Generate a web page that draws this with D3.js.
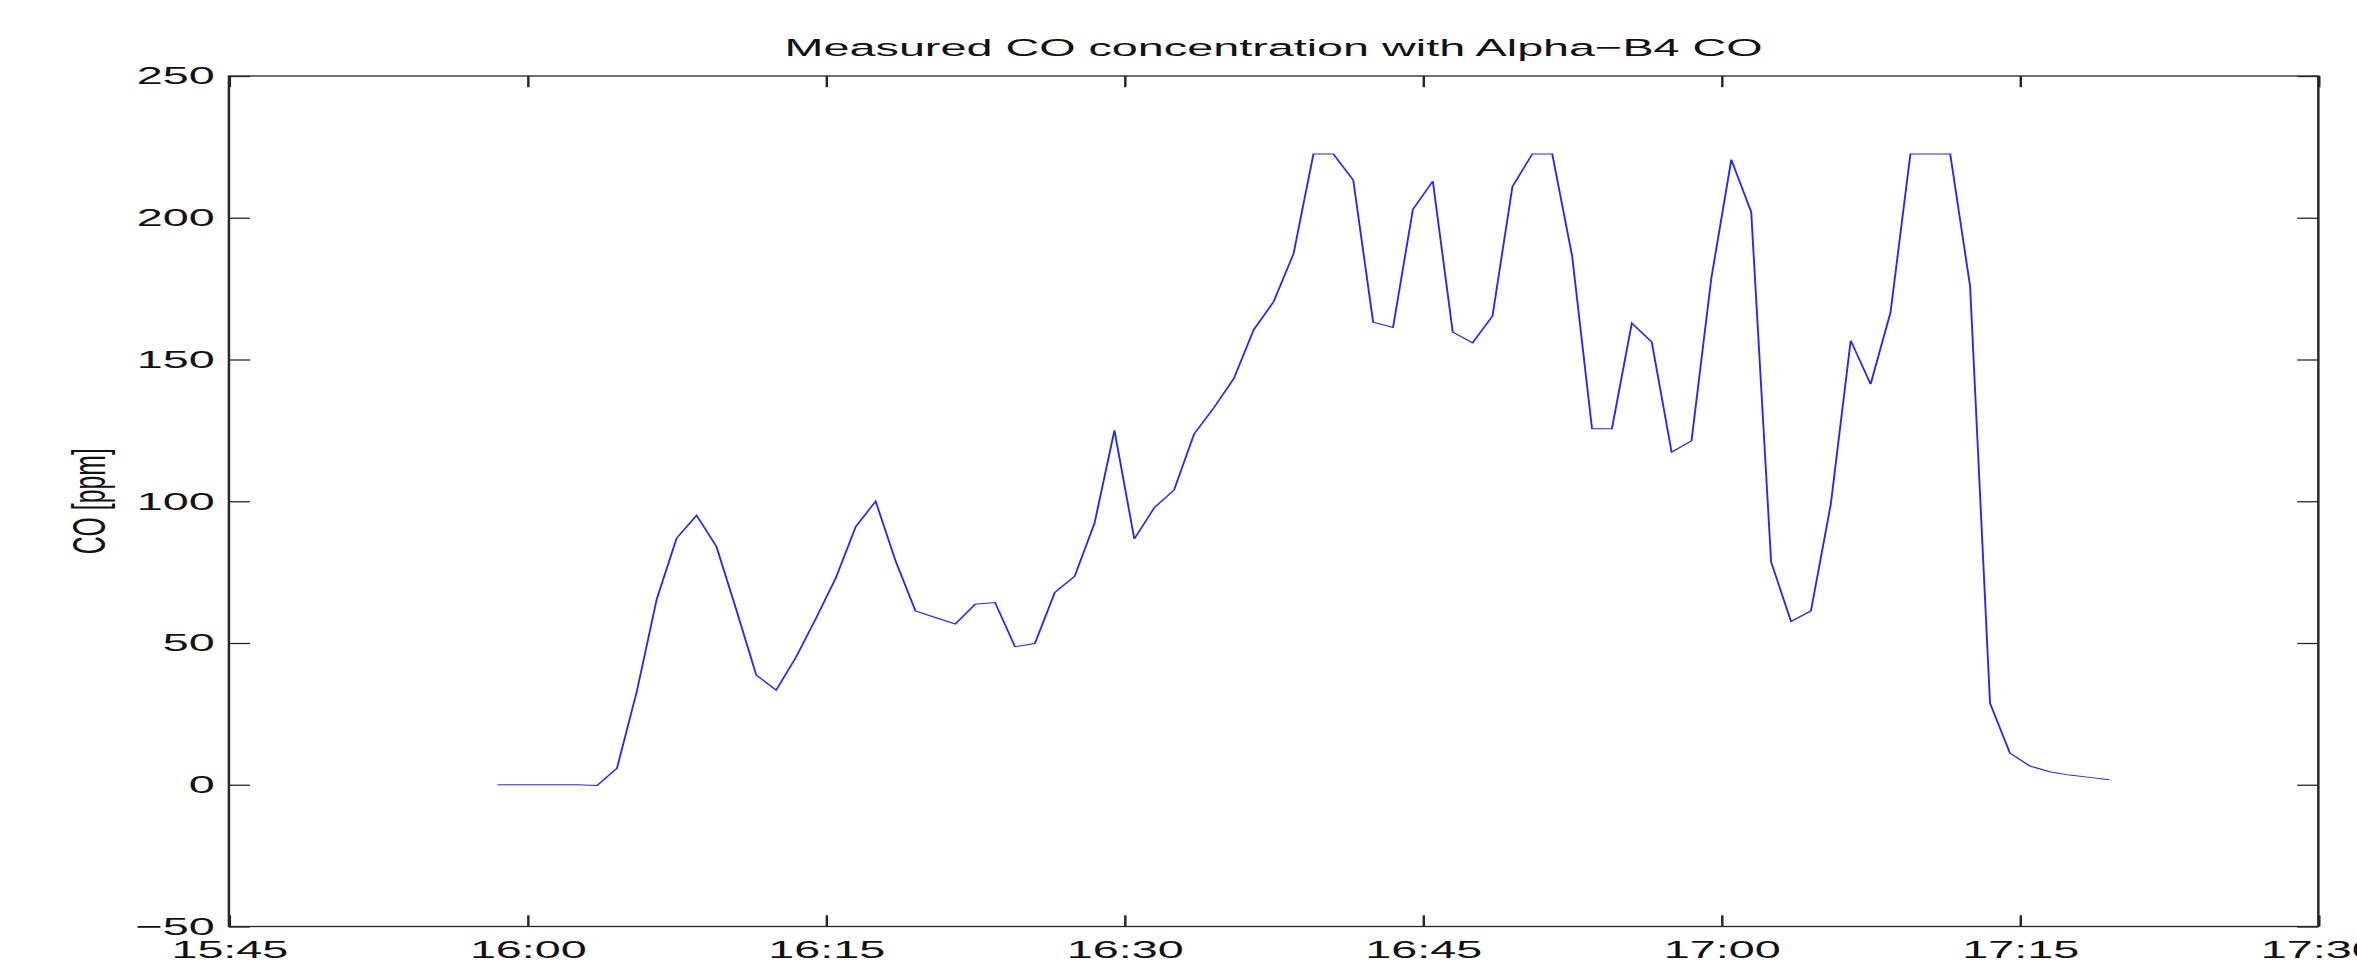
<!DOCTYPE html>
<html>
<head>
<meta charset="utf-8">
<script src="https://cdn.jsdelivr.net/npm/d3@7"></script>
<style>
  html, body { margin: 0; padding: 0; background: #fff; }
  svg { display: block; }
  text { font-family: "Liberation Sans", Arial, Helvetica, sans-serif; fill: #111; }
</style>
</head>
<body>
<svg id="chart"></svg>
<script>
// Sample times (one reading per minute) and CO readings in ppm
const sampleTimes = [
  "15:58:30","15:59:30","16:00:30","16:01:30","16:02:30","16:03:30","16:04:30","16:05:30","16:06:30","16:07:30",
  "16:08:30","16:09:30","16:10:30","16:11:30","16:12:30","16:13:30","16:14:30","16:15:30","16:16:30","16:17:30",
  "16:18:30","16:19:30","16:20:30","16:21:30","16:22:30","16:23:30","16:24:30","16:25:30","16:26:30","16:27:30",
  "16:28:30","16:29:30","16:30:30","16:31:30","16:32:30","16:33:30","16:34:30","16:35:30","16:36:30","16:37:30",
  "16:38:30","16:39:30","16:40:30","16:41:30","16:42:30","16:43:30","16:44:30","16:45:30","16:46:30","16:47:30",
  "16:48:30","16:49:30","16:50:30","16:51:30","16:52:30","16:53:30","16:54:30","16:55:30","16:56:30","16:57:30",
  "16:58:30","16:59:30","17:00:30","17:01:30","17:02:30","17:03:30","17:04:30","17:05:30","17:06:30","17:07:30",
  "17:08:30","17:09:30","17:10:30","17:11:30","17:12:30","17:13:30","17:14:30","17:15:30","17:16:30","17:17:30",
  "17:18:30","17:19:30"
];
const coPpm = [
  0, 0, 0, 0, 0, -0.3, 5.8, 33, 65.5, 87,
  95, 84, 61.7, 38.7, 33.4, 45, 58.7, 73, 91, 100,
  79, 61.3, 59, 56.7, 63.7, 64.3, 48.7, 49.8, 67.8, 73.5,
  92.3, 125, 86.7, 97.7, 104, 123.7, 133, 143.3, 160.5, 170.4,
  187.3, 222.5, 222.5, 213.3, 163.2, 161.3, 203, 212.9, 159.7, 155.9,
  165.4, 211, 222.5, 222.5, 186.5, 125.6, 125.6, 162.8, 156.2, 117.3,
  121.3, 178.9, 220.5, 202, 78.6, 57.6, 61.3, 99, 156.7, 141.3,
  166.6, 222.5, 222.5, 222.5, 175.8, 28.8, 11.2, 6.6, 4.6, 3.4,
  2.6, 1.8
];
const xDomain = ["15:45:00", "17:30:00"];
const xTickLabels = ["15:45", "16:00", "16:15", "16:30", "16:45", "17:00", "17:15", "17:30"];
const yDomain = [-50, 250];
const yTickValues = [-50, 0, 50, 100, 150, 200, 250];
const titleText = "Measured CO concentration with Alpha\u2212B4 CO";
const yLabelText = "CO [ppm]";

// The figure is laid out in a narrower box and stretched to the window width
const W = 1250, H = 965;
const plotLeft = 121.4, plotRight = 1229.5, plotTop = 76, plotBottom = 926.5;
const tickLen = 11.2;
const fontSize = 24.8;

const parseT = d3.timeParse("%H:%M:%S");
const parseTick = d3.timeParse("%H:%M");

const svg = d3.select("#chart")
  .attr("width", 2357)
  .attr("height", 965)
  .attr("viewBox", `0 0 ${W} ${H}`)
  .attr("preserveAspectRatio", "none");

const x = d3.scaleTime().domain(xDomain.map(parseT)).range([plotLeft, plotRight]);
const y = d3.scaleLinear().domain(yDomain).range([plotBottom, plotTop]);

const data = sampleTimes.map((t, i) => ({ t: parseT(t), v: coPpm[i] }));
const xTicks = xTickLabels.map(parseTick);
const fmt = d3.timeFormat("%H:%M");

function styleAxis(g) {
  g.select(".domain").remove();
  g.selectAll(".tick line").attr("stroke", "#262626").attr("stroke-width", 1.3);
  g.selectAll(".tick text").attr("font-size", fontSize).attr("fill", "#111")
    .attr("font-family", "'Liberation Sans', Arial, Helvetica, sans-serif");
}

// Bottom axis with labels, ticks pointing into the plot
svg.append("g").attr("transform", `translate(0,${plotBottom})`)
  .call(d3.axisBottom(x).tickValues(xTicks).tickFormat(fmt).tickSize(-tickLen).tickPadding(13.6))
  .call(styleAxis);

// Top axis: ticks only
svg.append("g").attr("transform", `translate(0,${plotTop})`)
  .call(d3.axisTop(x).tickValues(xTicks).tickFormat("").tickSize(-tickLen))
  .call(styleAxis);

// Left axis with labels
svg.append("g").attr("transform", `translate(${plotLeft},0)`)
  .call(d3.axisLeft(y).tickValues(yTickValues).tickSize(-tickLen).tickPadding(7.5))
  .call(styleAxis);

// Right axis: ticks only
svg.append("g").attr("transform", `translate(${plotRight},0)`)
  .call(d3.axisRight(y).tickValues(yTickValues).tickFormat("").tickSize(-tickLen))
  .call(styleAxis);

// Plot box
svg.append("rect")
  .attr("x", plotLeft).attr("y", plotTop)
  .attr("width", plotRight - plotLeft).attr("height", plotBottom - plotTop)
  .attr("fill", "none").attr("stroke", "#262626").attr("stroke-width", 1.3);

// CO trace
svg.append("path")
  .datum(data)
  .attr("fill", "none")
  .attr("stroke", "#2626ff")
  .attr("stroke-width", 1)
  .attr("d", d3.line().x(d => x(d.t)).y(d => y(d.v)));

// Title
svg.append("text")
  .attr("x", (plotLeft + plotRight) / 2).attr("y", 56)
  .attr("text-anchor", "middle")
  .attr("font-size", fontSize)
  .text(titleText);

// Y axis label
svg.append("text")
  .attr("transform", `translate(49.5,${(plotTop + plotBottom) / 2}) rotate(-90)`)
  .attr("text-anchor", "middle")
  .attr("dy", "0.26em")
  .attr("font-size", fontSize)
  .text(yLabelText);
</script>
</body>
</html>
